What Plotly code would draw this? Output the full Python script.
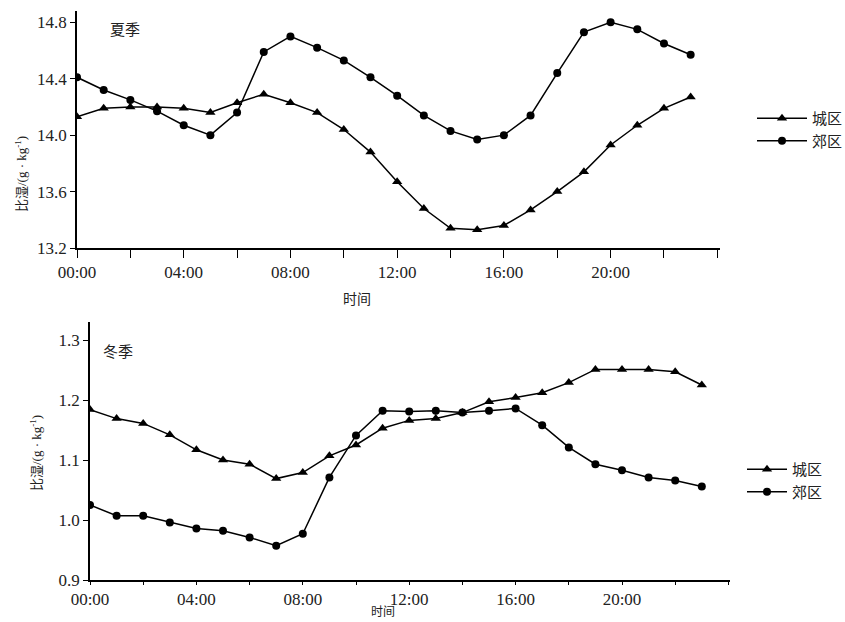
import plotly.graph_objects as go

hours = list(range(24))
tick_vals = list(range(0, 25, 2))
tick_text = ["00:00", "", "04:00", "", "08:00", "", "12:00", "", "16:00", "", "20:00", "", ""]

summer_city = [14.13, 14.19, 14.20, 14.20, 14.19, 14.16, 14.23, 14.29, 14.23, 14.16, 14.04, 13.88,
               13.67, 13.48, 13.34, 13.33, 13.36, 13.47, 13.60, 13.74, 13.93, 14.07, 14.19, 14.27]
summer_suburb = [14.41, 14.32, 14.25, 14.17, 14.07, 14.00, 14.16, 14.59, 14.70, 14.62, 14.53, 14.41,
                 14.28, 14.14, 14.03, 13.97, 14.00, 14.14, 14.44, 14.73, 14.80, 14.75, 14.65, 14.57]
winter_city = [1.184, 1.169, 1.161, 1.142, 1.117, 1.100, 1.093, 1.069, 1.079, 1.107, 1.125, 1.153,
               1.166, 1.169, 1.179, 1.197, 1.204, 1.212, 1.229, 1.251, 1.251, 1.251, 1.247, 1.225]
winter_suburb = [1.025, 1.007, 1.007, 0.996, 0.986, 0.982, 0.971, 0.957, 0.977, 1.071, 1.141, 1.182,
                 1.181, 1.182, 1.179, 1.182, 1.186, 1.158, 1.121, 1.093, 1.083, 1.071, 1.066, 1.056]

summer_yticks = [13.2, 13.6, 14.0, 14.4, 14.8]
winter_yticks = [0.9, 1.0, 1.1, 1.2, 1.3]

FONT = "'Liberation Serif', 'Times New Roman', 'Noto Sans CJK SC', serif"
W, H = 845, 622

fig = go.Figure()

def add_series(x, y, name, symbol, xa, ya, legend):
    fig.add_trace(go.Scatter(
        x=x, y=y, name=name, mode="lines+markers",
        line=dict(color="black", width=1.5),
        marker=dict(symbol=symbol, size=9 if symbol == "triangle-up" else 8, color="black"),
        xaxis=xa, yaxis=ya, legend=legend))

add_series(hours, summer_city, "城区", "triangle-up", "x", "y", "legend")
add_series(hours, summer_suburb, "郊区", "circle", "x", "y", "legend")
add_series(hours, winter_city, "城区", "triangle-up", "x2", "y2", "legend2")
add_series(hours, winter_suburb, "郊区", "circle", "x2", "y2", "legend2")

def xaxis(dom, anchor, rng, tl):
    return dict(domain=dom, anchor=anchor, range=rng, tickvals=tick_vals, ticktext=tick_text,
                showline=True, linecolor="black", linewidth=1.5, ticks="outside", ticklen=tl,
                tickcolor="black", showgrid=False, zeroline=False,
                tickfont=dict(family=FONT, size=17, color="#222"))

def yaxis(dom, anchor, rng, tv):
    return dict(domain=dom, anchor=anchor, range=rng, tickvals=tv,
                tickformat=".1f", showline=True, linecolor="black", linewidth=1.5,
                ticks="outside", ticklen=5, tickcolor="black", showgrid=False, zeroline=False,
                tickfont=dict(family=FONT, size=17, color="#222"))

fig.update_layout(
    width=W, height=H, margin=dict(l=0, r=0, t=0, b=0, autoexpand=False),
    plot_bgcolor="white", paper_bgcolor="white",
    xaxis=xaxis([77 / W, 720 / W], "y", [0, 24.1], 8),
    yaxis=yaxis([1 - 248 / H, 1 - 11 / H], "x", [13.2, 14.88], summer_yticks),
    xaxis2=xaxis([90 / W, 730 / W], "y2", [0, 24.06], 3),
    yaxis2=yaxis([1 - 580 / H, 1 - 322 / H], "x2", [0.9, 1.33], winter_yticks),
    legend=dict(x=752 / W, y=1 - 102 / H, xanchor="left", yanchor="top",
                font=dict(family=FONT, size=15, color="#222"), bgcolor="rgba(0,0,0,0)",
                itemwidth=50, tracegroupgap=6),
    legend2=dict(x=742 / W, y=1 - 453 / H, xanchor="left", yanchor="top",
                 font=dict(family=FONT, size=15, color="#222"), bgcolor="rgba(0,0,0,0)",
                 itemwidth=40, tracegroupgap=6),
    showlegend=True,
)

def ann(text, x, y, size=15, angle=0):
    fig.add_annotation(text=text, x=x / W, y=1 - y / H, xref="paper", yref="paper",
                       xanchor="center", yanchor="middle",
                       showarrow=False, textangle=angle,
                       font=dict(family=FONT, size=size, color="#222"))

ann("夏季", 125, 30)
ann("冬季", 118, 352)
ann("时间", 357, 299, 14)
ann("时间", 383, 612, 12)
ann("比湿/(g · kg<sup>-1</sup>)", 21, 174, 13, -90)
ann("比湿/(g · kg<sup>-1</sup>)", 36, 453, 13, -90)

fig.write_html("out.html", post_script="document.body.style.margin='0';",
               config={"displayModeBar": False})
